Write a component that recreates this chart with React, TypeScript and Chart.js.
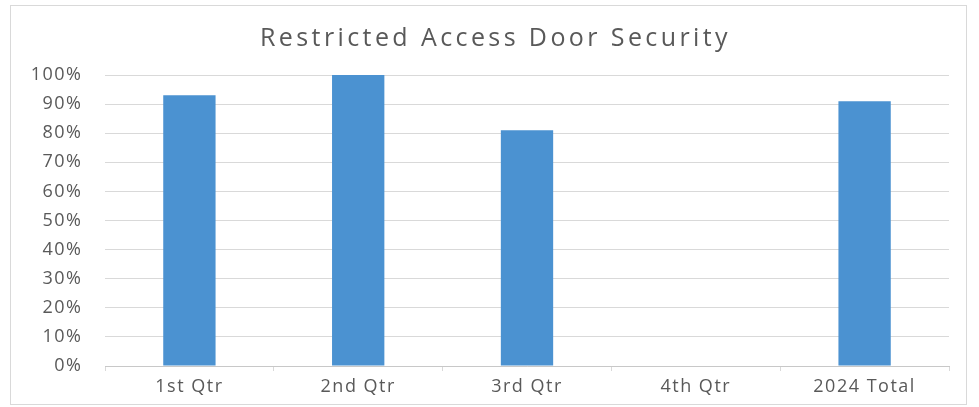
import React, { useEffect, useRef } from "react";
import { Chart, registerables } from "chart.js";

Chart.register(...registerables);

const categories = ["1st Qtr", "2nd Qtr", "3rd Qtr", "4th Qtr", "2024 Total"];
const values: (number | null)[] = [0.93, 1.0, 0.81, null, 0.91];
const yTicks = [0, 0.1, 0.2, 0.3, 0.4, 0.5, 0.6, 0.7, 0.8, 0.9, 1.0];
const title = "Restricted Access Door Security";

const FONT = "'Open Sans', 'Liberation Sans', sans-serif";
const TEXT = "#595959";

const spacingPlugin = {
  id: "letterSpacing",
  beforeLayout(chart: any) {
    chart.ctx.letterSpacing = "1.5px";
  },
  beforeDraw(chart: any) {
    chart.ctx.letterSpacing = "1.5px";
  },
};

export default function App() {
  const ref = useRef<HTMLCanvasElement | null>(null);
  useEffect(() => {
    if (!ref.current) return;
    const chart = new Chart(ref.current, {
      type: "bar",
      data: {
        labels: categories,
        datasets: [
          {
            data: values,
            backgroundColor: "#4b92d1",
            barPercentage: 0.31,
            categoryPercentage: 1,
          },
        ],
      },
      plugins: [spacingPlugin],
      options: {
        animation: false,
        responsive: false,
        maintainAspectRatio: false,
        layout: { padding: { left: 0, right: 17, top: 69, bottom: 0 } },
        plugins: {
          legend: { display: false },
          tooltip: { enabled: false },
          title: { display: false },
        },
        scales: {
          x: {
            grid: {
              display: true,
              drawOnChartArea: false,
              drawTicks: true,
              tickLength: 5,
              color: "#d9d9d9",
              offset: true,
            },
            border: { display: true, color: "#c8c8c8", width: 1 },
            ticks: {
              color: TEXT,
              font: { family: FONT, size: 18 },
              padding: 5,
              maxRotation: 0,
              autoSkip: false,
            },
            afterFit: (scale: any) => {
              scale.height = 38;
            },
          },
          y: {
            min: 0,
            max: 1,
            afterBuildTicks: (scale: any) => {
              scale.ticks = yTicks.map((v) => ({ value: v }));
            },
            grid: { color: "#d9d9d9", drawTicks: false },
            border: { display: false },
            ticks: {
              color: TEXT,
              font: { family: FONT, size: 18 },
              padding: 22.5,
              callback: (v: any) => Math.round(Number(v) * 100) + "%",
            },
            afterFit: (scale: any) => {
              scale.width = 94;
            },
          },
        },
      },
    });
    return () => chart.destroy();
  }, []);
  return (
    <div
      style={{
        position: "absolute",
        left: 10,
        top: 5,
        width: 957,
        height: 400,
        boxSizing: "border-box",
        border: "1px solid #d9d9d9",
        background: "#fff",
      }}
    >
      <div
        style={{
          position: "absolute",
          left: 7,
          top: 18.4,
          width: 955,
          textAlign: "center",
          fontFamily: FONT,
          fontSize: 25,
          lineHeight: "25px",
          letterSpacing: "3.4px",
          color: TEXT,
          whiteSpace: "nowrap",
        }}
      >
        {title}
      </div>
      <canvas ref={ref} width={955} height={398} style={{ display: "block" }} />
    </div>
  );
}
